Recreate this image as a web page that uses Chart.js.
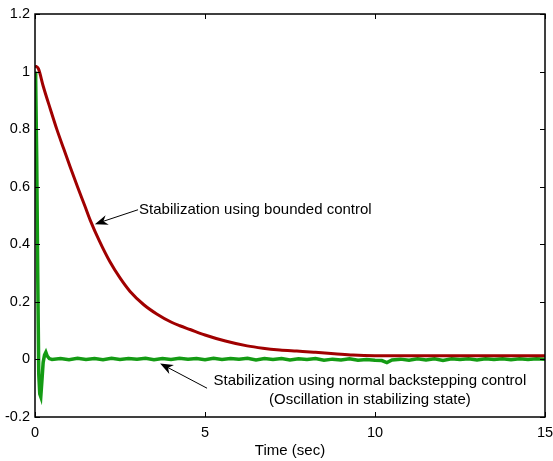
<!DOCTYPE html>
<html>
<head>
<meta charset="utf-8">
<script src="https://cdn.jsdelivr.net/npm/chart.js@4.4.1/dist/chart.umd.min.js"></script>
<style>
  html, body { margin: 0; padding: 0; background: #ffffff; }
  #wrap { width: 553px; height: 461px; }
</style>
</head>
<body>
<div id="wrap"><canvas id="chart" width="553" height="461"></canvas></div>
<script>
// bounded control response (red)
const tBounded = [0, 0.1, 0.24, 0.45, 0.64, 0.85, 1.03, 1.25, 1.47, 1.62, 1.9, 2.2, 2.5, 2.79, 3.2, 3.58, 4.0, 4.26, 4.56, 5.0, 5.6, 6.24, 6.7, 7.2, 7.7, 8.2, 8.8, 9.35, 10, 11, 12, 13, 14, 15];
const yBounded = [1.02, 1.01, 0.95, 0.87, 0.80, 0.73, 0.67, 0.60, 0.532, 0.485, 0.41, 0.34, 0.283, 0.237, 0.19, 0.158, 0.13, 0.117, 0.104, 0.085, 0.064, 0.047, 0.039, 0.033, 0.029, 0.025, 0.02, 0.015, 0.013, 0.013, 0.013, 0.013, 0.013, 0.013];

// normal backstepping response (green)
const tBackstep = [0, 0.02, 0.05, 0.08, 0.11, 0.14, 0.17, 0.2, 0.24, 0.28, 0.32, 0.36, 0.42, 0.5,
  0.75, 1, 1.25, 1.5, 1.75, 2, 2.25, 2.5, 2.75, 3, 3.25, 3.5, 3.75, 4, 4.25, 4.5, 4.75, 5,
  5.25, 5.5, 5.75, 6, 6.25, 6.5, 6.75, 7, 7.25, 7.5, 7.75, 8, 8.25, 8.5, 8.75, 9, 9.25, 9.5,
  9.75, 10, 10.2, 10.35, 10.5, 10.75, 11, 11.25, 11.5, 11.75, 12, 12.25, 12.5, 12.75, 13,
  13.25, 13.5, 13.75, 14, 14.25, 14.5, 14.75, 15];
const yBackstep = [1.0, 0.97, 0.7, 0.3, -0.05, -0.12, -0.13, -0.08, -0.01, 0.015, 0.025, 0.012, 0.003, 0.0,
  0.003, -0.001, 0.004, 0.0, 0.003, -0.001, 0.004, 0.0, 0.003, 0.001, 0.004, -0.001, 0.003, 0.0, 0.004, 0.001, 0.003, -0.001,
  0.004, 0.0, 0.003, 0.001, 0.004, -0.002, 0.003, 0.0, 0.003, -0.002, 0.002, 0.0, 0.003, -0.003, 0.001, -0.002, 0.002, -0.003,
  0.0, -0.003, -0.004, -0.011, -0.002, 0.001, -0.003, 0.002, -0.002, 0.002, -0.004, 0.002, 0.0, 0.002, -0.002,
  0.002, 0.0, 0.002, -0.001, 0.002, 0.0, 0.002, 0.001];

const xTicks = [0, 5, 10, 15];
const yTicks = [-0.2, 0, 0.2, 0.4, 0.6, 0.8, 1, 1.2];

// annotations in data units
const notes = [
  { lines: ["Stabilization using bounded control"], x: 3.06, y: 0.518, align: "left", tail: [3.03, 0.52], tip: [1.76, 0.47] },
  { lines: ["Stabilization using normal backstepping control", "(Oscillation in stabilizing state)"], x: 9.85, y: -0.073, align: "center", tail: [5.06, -0.10], tip: [3.68, -0.014] }
];

const FONT = "Liberation Sans, Arial, sans-serif";

const toPoints = (ts, ys) => ts.map((t, i) => ({ x: t, y: ys[i] }));

const matlabAxes = {
  id: "matlabAxes",
  afterDatasetsDraw(chart) {
    const { ctx, chartArea: a, scales: { x, y } } = chart;
    ctx.save();
    ctx.strokeStyle = "#000";
    ctx.lineWidth = 1;
    ctx.beginPath();
    xTicks.forEach(v => {
      const px = Math.round(x.getPixelForValue(v)) + 0.5;
      ctx.moveTo(px, a.bottom); ctx.lineTo(px, a.bottom - 5);
      ctx.moveTo(px, a.top); ctx.lineTo(px, a.top + 5);
    });
    yTicks.forEach(v => {
      const py = Math.round(y.getPixelForValue(v)) + 0.5;
      ctx.moveTo(a.left, py); ctx.lineTo(a.left + 5, py);
      ctx.moveTo(a.right, py); ctx.lineTo(a.right - 5, py);
    });
    ctx.stroke();
    ctx.lineWidth = 1.5;
    ctx.strokeRect(a.left, a.top, a.right - a.left, a.bottom - a.top);

    // annotations
    ctx.font = "15px " + FONT;
    ctx.fillStyle = "#000";
    ctx.textBaseline = "middle";
    notes.forEach(n => {
      ctx.textAlign = n.align;
      const px = x.getPixelForValue(n.x);
      const py = y.getPixelForValue(n.y);
      n.lines.forEach((s, i) => ctx.fillText(s, px, py + i * 19));
      const x0 = x.getPixelForValue(n.tail[0]), y0 = y.getPixelForValue(n.tail[1]);
      const x1 = x.getPixelForValue(n.tip[0]), y1 = y.getPixelForValue(n.tip[1]);
      const ang = Math.atan2(y1 - y0, x1 - x0);
      const len = 13, half = 5;
      ctx.lineWidth = 1;
      ctx.beginPath();
      ctx.moveTo(x0, y0);
      ctx.lineTo(x1 - Math.cos(ang) * 8, y1 - Math.sin(ang) * 8);
      ctx.stroke();
      ctx.save();
      ctx.translate(x1, y1);
      ctx.rotate(ang);
      ctx.beginPath();
      ctx.moveTo(0, 0);
      ctx.lineTo(-len, -half);
      ctx.lineTo(-len + 4, 0);
      ctx.lineTo(-len, half);
      ctx.closePath();
      ctx.fill();
      ctx.restore();
    });
    ctx.restore();
  }
};

new Chart(document.getElementById("chart").getContext("2d"), {
  type: "line",
  data: {
    datasets: [
      {
        label: "Bounded control",
        data: toPoints(tBounded, yBounded),
        borderColor: "rgb(160, 0, 0)",
        borderWidth: 3,
        pointRadius: 0,
        cubicInterpolationMode: "monotone",
        order: 0
      },
      {
        label: "Normal backstepping",
        data: toPoints(tBackstep, yBackstep),
        borderColor: "rgb(20, 155, 20)",
        borderWidth: 3.5,
        pointRadius: 0,
        tension: 0,
        order: 1
      }
    ]
  },
  options: {
    responsive: false,
    animation: false,
    layout: { padding: { top: 14, right: 0, left: 0, bottom: 0 } },
    plugins: { legend: { display: false }, tooltip: { enabled: false } },
    scales: {
      x: {
        type: "linear",
        min: 0, max: 15,
        grid: { display: false, drawTicks: false },
        border: { display: false },
        afterBuildTicks: s => { s.ticks = xTicks.map(v => ({ value: v })); },
        afterFit: s => { s.height = 44; s.paddingRight = 8; s.paddingLeft = 0; },
        ticks: { color: "#000", padding: 7, font: { family: FONT, size: 14.5 } },
        title: { display: true, text: "Time (sec)", color: "#000", padding: { top: 0, bottom: 1 }, font: { family: FONT, size: 15 } }
      },
      y: {
        min: -0.2, max: 1.2,
        grid: { display: false, drawTicks: false },
        border: { display: false },
        afterBuildTicks: s => { s.ticks = yTicks.map(v => ({ value: v })); },
        afterFit: s => { s.width = 35; },
        ticks: {
          color: "#000", padding: 5, font: { family: FONT, size: 14.5 },
          callback: v => String(Number(v.toFixed(1)))
        }
      }
    }
  },
  plugins: [matlabAxes]
});
</script>
</body>
</html>
